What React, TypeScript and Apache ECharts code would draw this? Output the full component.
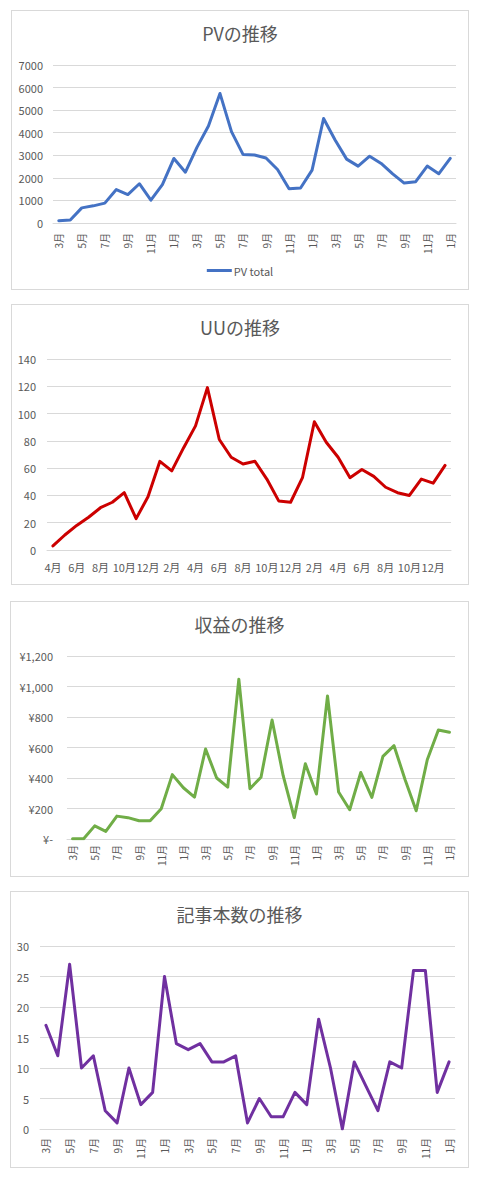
import * as echarts from 'echarts';
import { useEffect, useRef } from 'react';

const monthsFromMarch = [
    '3月', '4月', '5月', '6月', '7月', '8月', '9月', '10月', '11月', '12月',
    '1月', '2月', '3月', '4月', '5月', '6月', '7月', '8月', '9月', '10月', '11月', '12月',
    '1月', '2月', '3月', '4月', '5月', '6月', '7月', '8月', '9月', '10月', '11月', '12月',
    '1月',
];
const monthsFromApril = [
    '4月', '5月', '6月', '7月', '8月', '9月', '10月', '11月', '12月',
    '1月', '2月', '3月', '4月', '5月', '6月', '7月', '8月', '9月', '10月', '11月', '12月',
    '1月', '2月', '3月', '4月', '5月', '6月', '7月', '8月', '9月', '10月', '11月', '12月',
    '1月',
];

const pvTotal = [
    100, 130, 670, 760, 880, 1480, 1260, 1740, 1010, 1700, 2860, 2250,
    3350, 4300, 5740, 4050, 3040, 3010, 2880, 2370, 1520, 1550, 2340, 4630,
    3680, 2830, 2520, 2960, 2640, 2180, 1770, 1830, 2520, 2180, 2860,
];
const uuValues = [
    3, 11, 18, 24, 31, 35, 42, 23, 39, 65, 58, 75,
    91, 119, 81, 68, 63, 65, 52, 36, 35, 53, 94, 79,
    68, 53, 59, 54, 46, 42, 40, 52, 49, 62,
];
const revenueValues = [
    2, 2, 86, 50, 150, 140, 120, 120, 198, 422, 336, 275,
    590, 400, 340, 1048, 330, 405, 780, 415, 140, 493, 295, 938,
    308, 192, 436, 273, 542, 612, 388, 185, 520, 715, 700,
];
const articleCounts = [
    17, 12, 27, 10, 12, 3, 1, 10, 4, 6, 25, 14,
    13, 14, 11, 11, 12, 1, 5, 2, 2, 6, 4, 18,
    10, 0, 11, 7, 3, 11, 10, 26, 26, 6, 11,
];

const FONT = '"Noto Sans CJK JP", "Noto Sans", sans-serif';
const TEXT = '#595959';
const GRID_LINE = '#d9d9d9';

type ChartSpec = {
    title: string;
    categories: string[];
    values: number[];
    name: string;
    color: string;
    max: number;
    interval: number;
    grid: { left: number; right: number; top: number; bottom: number };
    rotate: boolean;
    xMargin: number;
    yMargin: number;
    yFormatter: (v: number) => string;
    legend?: boolean;
};

const buildOption = (s: ChartSpec) => ({
    animation: false,
    title: {
        text: s.title,
        left: 'center',
        top: 8,
        textStyle: { fontFamily: FONT, fontSize: 18, fontWeight: 'normal', color: TEXT },
    },
    legend: s.legend
        ? {
              bottom: 8,
              left: 'center',
              icon: 'rect',
              itemWidth: 25,
              itemHeight: 3,
              itemGap: 4,
              data: [s.name],
              textStyle: { fontFamily: FONT, fontSize: 11, color: TEXT, padding: [0, 0, 0, -3] },
          }
        : undefined,
    grid: { ...s.grid, containLabel: false },
    xAxis: {
        type: 'category',
        boundaryGap: true,
        data: s.categories,
        axisLine: { lineStyle: { color: GRID_LINE, width: 1 } },
        axisTick: { show: false },
        axisLabel: {
            interval: 1,
            rotate: s.rotate ? 90 : 0,
            margin: s.xMargin,
            fontFamily: FONT,
            fontSize: s.rotate ? 10 : 11,
            color: TEXT,
        },
    },
    yAxis: {
        type: 'value',
        min: 0,
        max: s.max,
        interval: s.interval,
        axisLine: { show: false },
        axisTick: { show: false },
        splitLine: { lineStyle: { color: GRID_LINE, width: 1 } },
        axisLabel: {
            margin: s.yMargin,
            fontFamily: FONT,
            fontSize: 11,
            color: TEXT,
            formatter: s.yFormatter,
        },
    },
    series: [
        {
            name: s.name,
            type: 'line',
            data: s.values,
            showSymbol: false,
            symbol: 'none',
            lineStyle: { color: s.color, width: 3, join: 'round', cap: 'round' },
            itemStyle: { color: s.color },
        },
    ],
});

const ChartBox = ({ left, top, width, height, spec }: { left: number; top: number; width: number; height: number; spec: ChartSpec }) => {
    const chartRef = useRef<HTMLDivElement>(null);

    useEffect(() => {
        if (!chartRef.current) return;
        const chart = echarts.init(chartRef.current, undefined, { renderer: 'svg' });
        chart.setOption(buildOption(spec));
        return () => chart.dispose();
    }, [spec]);

    return (
        <div
            style={{
                position: 'absolute',
                left,
                top,
                width,
                height,
                boxSizing: 'border-box',
                border: '1px solid #d9d9d9',
                background: '#fff',
            }}
        >
            <div ref={chartRef} style={{ width: width - 2, height: height - 2 }} />
        </div>
    );
};

const plainFormatter = (v: number) => String(v);
const yenFormatter = (v: number) => (v === 0 ? '¥-' : '¥' + v.toLocaleString('en-US'));

const pvSpec: ChartSpec = {
    title: 'PVの推移',
    categories: monthsFromMarch,
    values: pvTotal,
    name: 'PV total',
    color: '#4472C4',
    max: 7000,
    interval: 1000,
    grid: { left: 41, right: 12, top: 54, bottom: 66 },
    rotate: true,
    xMargin: 10,
    yMargin: 10,
    yFormatter: plainFormatter,
    legend: true,
};

const uuSpec: ChartSpec = {
    title: 'UUの推移',
    categories: monthsFromApril,
    values: uuValues,
    name: 'UU',
    color: '#CC0000',
    max: 140,
    interval: 20,
    grid: { left: 35, right: 17, top: 54, bottom: 34 },
    rotate: false,
    xMargin: 11,
    yMargin: 11,
    yFormatter: plainFormatter,
};

const revenueSpec: ChartSpec = {
    title: '収益の推移',
    categories: monthsFromMarch,
    values: revenueValues,
    name: '収益',
    color: '#70AD47',
    max: 1200,
    interval: 200,
    grid: { left: 56, right: 13, top: 54, bottom: 37 },
    rotate: true,
    xMargin: 6,
    yMargin: 14,
    yFormatter: yenFormatter,
};

const articleSpec: ChartSpec = {
    title: '記事本数の推移',
    categories: monthsFromMarch,
    values: articleCounts,
    name: '記事本数',
    color: '#7030A0',
    max: 30,
    interval: 5,
    grid: { left: 29, right: 13, top: 54, bottom: 38 },
    rotate: true,
    xMargin: 9,
    yMargin: 11,
    yFormatter: plainFormatter,
};

export default function App() {
    return (
        <div style={{ position: 'absolute', left: 0, top: 0, width: 480, height: 1179, background: '#fff' }}>
            <ChartBox left={11} top={10} width={458} height={280} spec={pvSpec} />
            <ChartBox left={11} top={304} width={458} height={281} spec={uuSpec} />
            <ChartBox left={10} top={601} width={459} height={276} spec={revenueSpec} />
            <ChartBox left={10} top={891} width={459} height={277} spec={articleSpec} />
        </div>
    );
}
